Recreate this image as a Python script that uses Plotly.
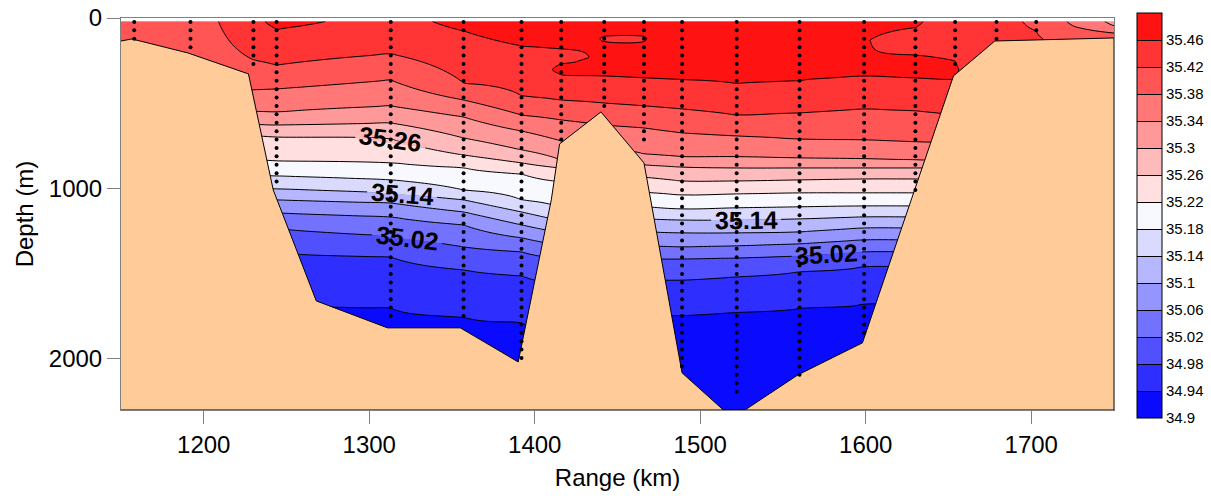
import math
import numpy as np
import plotly.graph_objects as go

# ---------------- data ----------------
levels = [34.94, 34.98, 35.02, 35.06, 35.10, 35.14, 35.18, 35.22,
          35.26, 35.30, 35.34, 35.38, 35.42, 35.46]
cbar_ticks = [34.90] + levels
cbar_range = [34.90, 35.50]
band_colors = ["#0A0AFF", "#2E2EFF", "#5050FF", "#7272FF", "#9595FF",
               "#B7B7FF", "#DADAFF", "#F8F8FF", "#FFDFDF", "#FFBBBB",
               "#FF9999", "#FF7777", "#FF5555", "#FF3434", "#FF1212"]

# salinity profiles: column range (km), knot depths (m), knot salinity
profile_km = [1150, 1158, 1192, 1230, 1244, 1313, 1357, 1392, 1416, 1442,
              1466, 1489, 1522, 1560, 1599, 1630, 1654, 1679, 1703, 1750]
deep_tail_d = [569, 733, 845, 880, 944, 1026, 1103, 1167, 1232, 1302, 1372, 1460, 1677, 2300]
deep_tail_s = [35.42, 35.38, 35.34, 35.30, 35.26, 35.22, 35.18, 35.14, 35.10, 35.06, 35.02, 34.98, 34.94, 34.92]
profile_depth = [
    [20, 2300],
    [20, 2300],
    [20, 2300],
    [20, 246, 422, 551, 628, 698, 839, 927, 1003, 1067, 1144, 1238, 1378, 1689, 2300],
    [20, 65, 276, 416, 551, 628, 698, 839, 927, 1003, 1067, 1144, 1238, 1378, 1689, 2300],
    [20, 211, 364, 516, 616, 710, 850, 950, 1026, 1085, 1167, 1279, 1402, 1701, 2300],
    [20, 76, 381, 481, 581, 704, 804, 880, 1009, 1067, 1138, 1214, 1343, 1478, 1754, 2300],
    [20, 164, 457, 569, 663, 774, 850, 915, 1067, 1138, 1214, 1290, 1372, 1513, 1789, 2300],
    [20, 182, 229, 270, 305, 334, 481, 598, 721, 833, 880, 962, 1114, 1191, 1261, 1337, 1413, 1566, 1830, 2300],
    [20, 100, 123, 146, 250, 340, 499, 628, 757, 845, 891, 962, 1091, 1173, 1255, 1337, 1413, 1548, 1783, 2300],
    [20, 100, 123, 146, 250, 352, 516, 645, 798, 862, 933, 1021, 1108, 1179, 1255, 1337, 1413, 1537, 1742, 2300],
    [20, 364, 534, 674, 815, 874, 956, 1038, 1120, 1185, 1261, 1343, 1413, 1537, 1742, 2300],
    [20, 387, 569, 692, 815, 880, 956, 1032, 1114, 1185, 1261, 1337, 1408, 1519, 1724, 2300],
    [20, 369, 557, 710, 821, 880, 950, 1026, 1108, 1179, 1255, 1325, 1396, 1490, 1701, 2300],
    [20, 129, 346, 534, 716, 827, 880, 944, 1026, 1103, 1167, 1232, 1302, 1372, 1460, 1677, 2300],
    [20, 56, 129, 217, 276, 352, 545, 727, 833, 880, 944, 1026, 1103, 1167, 1232, 1302, 1372, 1460, 1677, 2300],
    [20, 252, 305, 358] + deep_tail_d,
    [20, 117, 300] + deep_tail_d,
    [20, 76, 200] + deep_tail_d,
    [20, 47, 88, 117, 300] + deep_tail_d[1:],
]
profile_sal = [
    [35.40, 35.40],
    [35.40, 35.40],
    [35.40, 35.40],
    [35.445, 35.42, 35.38, 35.34, 35.30, 35.26, 35.22, 35.18, 35.14, 35.10, 35.06, 35.02, 34.98, 34.94, 34.92],
    [35.475, 35.46, 35.42, 35.38, 35.34, 35.30, 35.26, 35.22, 35.18, 35.14, 35.10, 35.06, 35.02, 34.98, 34.94, 34.92],
    [35.44, 35.42, 35.38, 35.34, 35.30, 35.26, 35.22, 35.18, 35.14, 35.10, 35.06, 35.02, 34.98, 34.94, 34.92],
    [35.475, 35.46, 35.42, 35.38, 35.34, 35.30, 35.26, 35.22, 35.18, 35.14, 35.10, 35.06, 35.02, 34.98, 34.94, 34.92],
    [35.485, 35.46, 35.42, 35.38, 35.34, 35.30, 35.26, 35.22, 35.18, 35.14, 35.10, 35.06, 35.02, 34.98, 34.94, 34.92],
    [35.48, 35.46, 35.445, 35.46, 35.466, 35.46, 35.42, 35.38, 35.34, 35.30, 35.26, 35.22, 35.18, 35.14, 35.10, 35.06, 35.02, 34.98, 34.94, 34.92],
    [35.475, 35.4605, 35.459, 35.4605, 35.47, 35.46, 35.42, 35.38, 35.34, 35.30, 35.26, 35.22, 35.18, 35.14, 35.10, 35.06, 35.02, 34.98, 34.94, 34.92],
    [35.475, 35.4605, 35.459, 35.4605, 35.47, 35.46, 35.42, 35.38, 35.34, 35.30, 35.26, 35.22, 35.18, 35.14, 35.10, 35.06, 35.02, 34.98, 34.94, 34.92],
    [35.475, 35.46, 35.42, 35.38, 35.34, 35.30, 35.26, 35.22, 35.18, 35.14, 35.10, 35.06, 35.02, 34.98, 34.94, 34.92],
    [35.48, 35.46, 35.42, 35.38, 35.34, 35.30, 35.26, 35.22, 35.18, 35.14, 35.10, 35.06, 35.02, 34.98, 34.94, 34.92],
    [35.48, 35.46, 35.42, 35.38, 35.34, 35.30, 35.26, 35.22, 35.18, 35.14, 35.10, 35.06, 35.02, 34.98, 34.94, 34.92],
    [35.47, 35.462, 35.46, 35.42, 35.38, 35.34, 35.30, 35.26, 35.22, 35.18, 35.14, 35.10, 35.06, 35.02, 34.98, 34.94, 34.92],
    [35.465, 35.46, 35.445, 35.46, 35.468, 35.46, 35.42, 35.38, 35.34, 35.30, 35.26, 35.22, 35.18, 35.14, 35.10, 35.06, 35.02, 34.98, 34.94, 34.92],
    [35.44, 35.46, 35.463, 35.46] + deep_tail_s,
    [35.435, 35.43, 35.43] + deep_tail_s,
    [35.412, 35.42, 35.425] + deep_tail_s,
    [35.33, 35.34, 35.38, 35.40, 35.40] + deep_tail_s[1:],
]

# bathymetry (range km, depth m)
bathy_km = [1150, 1156.6, 1190.4, 1227, 1242, 1268, 1311, 1355, 1390, 1410, 1415,
            1440, 1466, 1489, 1514, 1527, 1559, 1598, 1653, 1678, 1750]
bathy_m = [135, 123, 205, 328, 1009, 1660, 1818, 1818, 2018, 1067, 739,
           551, 850, 2082, 2300, 2300, 2094, 1906, 340, 135, 117]

# CTD stations: range (km) and deepest sample (m)
station_km = [1158, 1192, 1230, 1244, 1313, 1357, 1392, 1416, 1442, 1466,
              1489, 1522, 1560, 1599, 1630, 1654, 1679, 1703]
station_bottom = [125, 175, 275, 980, 1789, 1789, 2006, 716, 528, 757,
                  2065, 2194, 2094, 1889, 1026, 276, 125, 115]
sample_top, sample_step = 23, 49.3

# contour labels: level, range position (km)
label_level = [35.26, 35.14, 35.02, 35.14, 35.02]
label_km = [1312.7, 1319.9, 1322.9, 1527.7, 1576.5]

x_range = [1150, 1750]
depth_range = [2300, 0]
x_ticks = [1200, 1300, 1400, 1500, 1600, 1700]
y_ticks = [0, 1000, 2000]

# ---------------- layout geometry ----------------
W, H = 1211, 502
M_L, M_R, M_T, M_B = 121, 97, 18, 92
plot_h = H - M_T - M_B
px_per_km = (W - M_L - M_R) / (x_range[1] - x_range[0])
px_per_m = plot_h / (depth_range[0] - depth_range[1])

# ---------------- build ----------------
depth_grid = np.arange(20, 2301, 10)
z = np.array([np.interp(depth_grid, d, s) for d, s in zip(profile_depth, profile_sal)]).T

n = len(band_colors)
# fill colours: band k at k/(n-1) (plotly maps each band's midpoint there)
fill_scale = [[k / (n - 1), c] for k, c in enumerate(band_colors)]
# stepped scale for the colour bar over the full 34.9 - 35.5 range
step_scale = []
for k, c in enumerate(band_colors):
    step_scale += [[k / n, c], [(k + 1) / n, c]]


def contour_depth(level, xk):
    col = np.array([np.interp(xk, profile_km, row) for row in z])
    for i in range(len(col) - 1):
        a, b = col[i] - level, col[i + 1] - level
        if a * b <= 0 and col[i] != col[i + 1]:
            return depth_grid[i] + (level - col[i]) * (depth_grid[i + 1] - depth_grid[i]) / (col[i + 1] - col[i])
    return None


contour_def = dict(start=levels[0], end=levels[-1], size=0.04, showlines=True)
fig = go.Figure()
fig.add_trace(go.Contour(
    x=profile_km, y=depth_grid, z=z,
    colorscale=fill_scale, showscale=False,
    contours=dict(coloring="fill", **contour_def),
    line=dict(color="black", width=1, smoothing=1.3),
    hoverinfo="skip",
))

# colour bar carrier (drawn outside the visible axis range)
fig.add_trace(go.Contour(
    x=[0, 1], y=[-200, -100], z=[[cbar_range[0], cbar_range[1]], [cbar_range[0], cbar_range[1]]],
    zmin=cbar_range[0], zmax=cbar_range[1], colorscale=step_scale,
    contours=dict(coloring="heatmap", **contour_def),
    line=dict(color="black", width=1),
    hoverinfo="skip",
    colorbar=dict(
        x=(1137 - M_L) / (W - M_L - M_R), xanchor="left", xpad=0,
        y=(H - M_B - 215.5) / plot_h, yanchor="middle", ypad=0,
        len=405, lenmode="pixels", thickness=25,
        outlinewidth=1, outlinecolor="black",
        tickvals=cbar_ticks, ticktext=[f"{v:g}" for v in cbar_ticks],
        ticklabeloverflow="allow",
        ticks="", tickfont=dict(family="Arial", size=15, color="black"),
    ),
))

# label gaps: mask the contour line under each label with the two adjoining band colours
half_px = 35
strip_px = 3
annots = []
for lev, xc in zip(label_level, label_km):
    hw = half_px / px_per_km
    x0, x1 = xc - hw, xc + hw
    d0, d1, dc = contour_depth(lev, x0), contour_depth(lev, x1), contour_depth(lev, xc)
    j = int(round((lev - cbar_ticks[0]) / 0.04))
    h = strip_px / px_per_m
    for col, sgn in ((band_colors[j], -1), (band_colors[j - 1], 1)):
        fig.add_trace(go.Scatter(
            x=[x0, x1, x1, x0, x0], y=[d0, d1, d1 + sgn * h, d0 + sgn * h, d0],
            mode="lines", fill="toself", fillcolor=col, line=dict(width=0),
            showlegend=False, hoverinfo="skip"))
    ang = math.degrees(math.atan2((d1 - d0) * px_per_m, (x1 - x0) * px_per_km))
    annots.append((f"{lev:.2f}", xc, dc, ang))

fig.add_trace(go.Scatter(
    x=bathy_km + [x_range[1], x_range[0]],
    y=bathy_m + [depth_range[0], depth_range[0]],
    mode="lines", fill="toself", fillcolor="#FFCC99",
    line=dict(color="black", width=1), showlegend=False, hoverinfo="skip",
))

dot_x, dot_y = [], []
for km, bot in zip(station_km, station_bottom):
    d = np.arange(sample_top, bot + 1, sample_step)
    dot_x += [km] * len(d)
    dot_y += list(d)
fig.add_trace(go.Scatter(
    x=dot_x, y=dot_y, mode="markers",
    marker=dict(color="black", size=4), showlegend=False, hoverinfo="skip",
))

for t, xk, ym, a in annots:
    fig.add_annotation(x=xk, y=ym, text=t, showarrow=False, textangle=a,
                       font=dict(family="Arial", size=25, color="black", weight="bold"))

axis_common = dict(showline=True, mirror=True, linecolor="#7f7f7f", linewidth=1,
                   ticks="outside", ticklen=13, tickcolor="#7f7f7f",
                   tickfont=dict(family="Arial", size=24, color="black"),
                   showgrid=False, zeroline=False, automargin=False)
fig.update_layout(
    width=W, height=H,
    margin=dict(l=M_L, r=M_R, t=M_T, b=M_B, autoexpand=False),
    paper_bgcolor="white", plot_bgcolor="white",
    showlegend=False,
    xaxis=dict(range=x_range, tickvals=x_ticks,
               title=dict(text="Range (km)", font=dict(family="Arial", size=24, color="black"), standoff=12),
               **axis_common),
    yaxis=dict(range=depth_range, tickvals=y_ticks,
               title=dict(text="Depth (m)", font=dict(family="Arial", size=24, color="black"), standoff=8),
               **axis_common),
)

fig.write_html("out.html")
